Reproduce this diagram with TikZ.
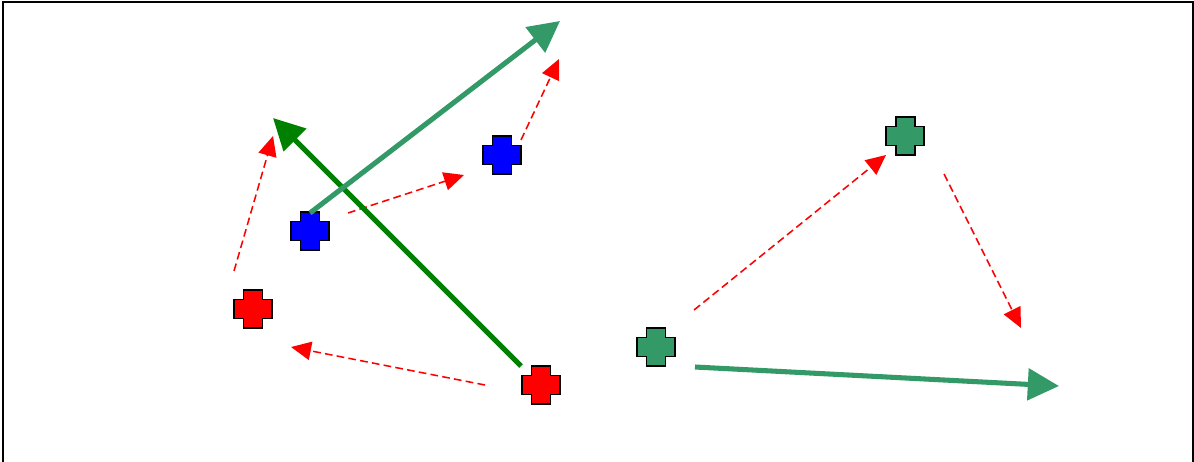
\documentclass[tikz,border=0pt]{standalone}
\usetikzlibrary{arrows.meta}
\definecolor{seagreen}{HTML}{339966}
\definecolor{darkgreen}{HTML}{008000}
\begin{document}
\begin{tikzpicture}[x=0.025cm,y=-0.025cm,
	pics/plusmark/.style={code={
		\draw[line width=1.4pt,fill=#1] (-9.5,-19) -| (9.5,-9.5) -| (19,9.5) -| (9.5,19) -| (-9.5,9.5) -| (-19,-9.5) -| (-9.5,-19) -- cycle;
	}},
	bigarrow/.style={draw=#1,line width=3.6pt,-{Triangle[length=0.78cm,width=0.78cm,fill=#1]}},
	redarrow/.style={draw=red,line width=1.1pt,dash pattern=on 5.5pt off 3pt,-{Triangle[length=0.5cm,width=0.46cm,fill=red]}}]
	\useasboundingbox (0,0) rectangle (1194,461);
	\clip (0,0) rectangle (1194,461);
	\draw[line width=1.4pt] (3,2) rectangle (1193,475);
	% crosses
	\pic (redA) at (253,309) {plusmark=red};
	\pic (redB) at (541,385) {plusmark=red};
	\pic (blueA) at (310,231) {plusmark=blue};
	\pic (blueB) at (502,155) {plusmark=blue};
	\pic (greenA) at (656,347) {plusmark=seagreen};
	\pic (greenB) at (905,136) {plusmark=seagreen};
	% end points
	\coordinate (dgS) at (521,366); \coordinate (dgE) at (273,118);
	\coordinate (sgS) at (310,213); \coordinate (sgE) at (560,21);
	\coordinate (shS) at (695,367); \coordinate (shE) at (1059,386);
	\coordinate (r1S) at (234,271); \coordinate (r1E) at (273,136);
	\coordinate (r2S) at (348,213); \coordinate (r2E) at (464,175);
	\coordinate (r3S) at (521,140); \coordinate (r3E) at (559,59);
	\coordinate (r4S) at (485,385); \coordinate (r4E) at (291,347);
	\coordinate (r5S) at (694,310); \coordinate (r5E) at (886,155);
	\coordinate (r6S) at (944,174); \coordinate (r6E) at (1021,328);
	\foreach \s/\e in {r1S/r1E,r2S/r2E,r3S/r3E,r4S/r4E,r5S/r5E,r6S/r6E}
		\draw[redarrow] (\s) -- (\e);
	\draw[bigarrow=darkgreen] (dgS) -- (dgE);
	\draw[bigarrow=seagreen] (sgS) -- (sgE);
	\draw[bigarrow=seagreen] (shS) -- (shE);
\end{tikzpicture}
\end{document}
